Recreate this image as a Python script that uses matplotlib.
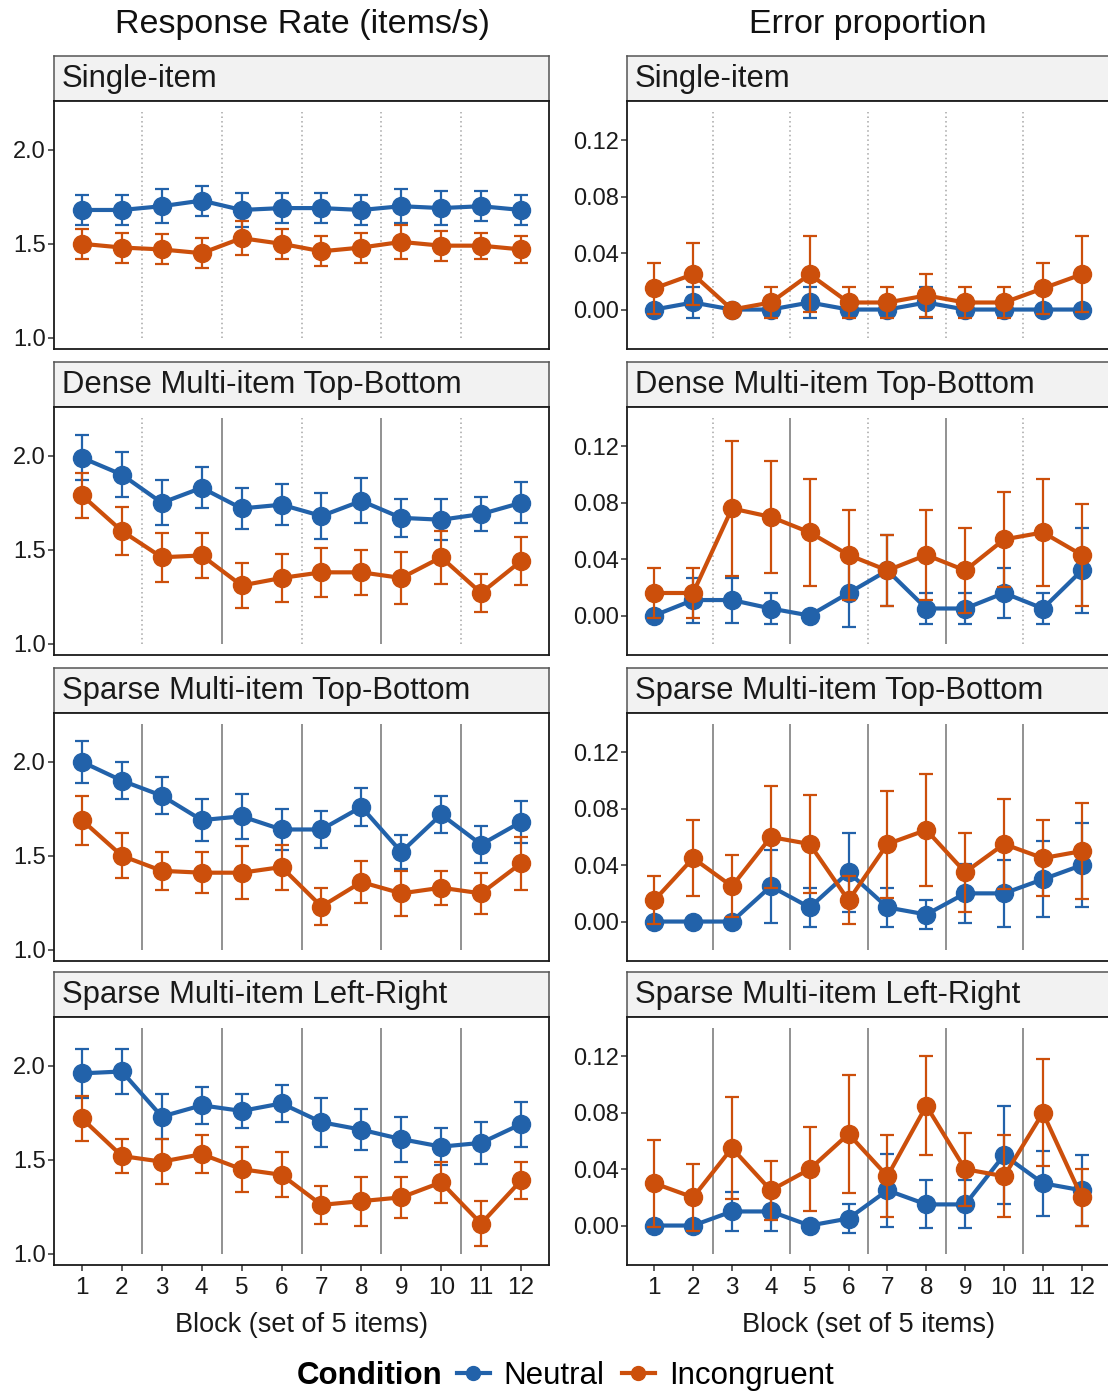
import matplotlib
matplotlib.use("Agg")
import matplotlib.pyplot as plt
from matplotlib.lines import Line2D
import numpy as np

plt.rcParams["font.family"] = ["Liberation Sans", "DejaVu Sans"]

blocks = np.arange(1, 13)
panels = ["Single-item", "Dense Multi-item Top-Bottom",
          "Sparse Multi-item Top-Bottom", "Sparse Multi-item Left-Right"]
boundaries = [2.5, 4.5, 6.5, 8.5, 10.5]
# separator style per panel: True = solid, False = dotted
sep_solid = [
    [False, False, False, False, False],
    [False, True, False, True, False],
    [True, True, True, True, True],
    [True, True, True, True, True],
]

# response rate (items/s)
rate_neutral = [
    [1.68, 1.68, 1.70, 1.73, 1.68, 1.69, 1.69, 1.68, 1.70, 1.69, 1.70, 1.68],
    [1.99, 1.90, 1.75, 1.83, 1.72, 1.74, 1.68, 1.76, 1.67, 1.66, 1.69, 1.75],
    [2.00, 1.90, 1.82, 1.69, 1.71, 1.64, 1.64, 1.76, 1.52, 1.72, 1.56, 1.68],
    [1.96, 1.97, 1.73, 1.79, 1.76, 1.80, 1.70, 1.66, 1.61, 1.57, 1.59, 1.69],
]
rate_neutral_se = [
    [0.08, 0.08, 0.09, 0.08, 0.09, 0.08, 0.08, 0.08, 0.09, 0.09, 0.08, 0.08],
    [0.12, 0.12, 0.12, 0.11, 0.11, 0.11, 0.12, 0.12, 0.10, 0.11, 0.09, 0.11],
    [0.11, 0.10, 0.10, 0.11, 0.12, 0.11, 0.10, 0.10, 0.09, 0.10, 0.10, 0.11],
    [0.13, 0.12, 0.12, 0.10, 0.09, 0.10, 0.13, 0.11, 0.12, 0.10, 0.11, 0.12],
]
rate_incong = [
    [1.50, 1.48, 1.47, 1.45, 1.53, 1.50, 1.46, 1.48, 1.51, 1.49, 1.49, 1.47],
    [1.79, 1.60, 1.46, 1.47, 1.31, 1.35, 1.38, 1.38, 1.35, 1.46, 1.27, 1.44],
    [1.69, 1.50, 1.42, 1.41, 1.41, 1.44, 1.23, 1.36, 1.30, 1.33, 1.30, 1.46],
    [1.72, 1.52, 1.49, 1.53, 1.45, 1.42, 1.26, 1.28, 1.30, 1.38, 1.16, 1.39],
]
rate_incong_se = [
    [0.08, 0.08, 0.08, 0.08, 0.09, 0.08, 0.08, 0.08, 0.09, 0.08, 0.07, 0.07],
    [0.12, 0.13, 0.13, 0.12, 0.12, 0.13, 0.13, 0.12, 0.14, 0.14, 0.10, 0.13],
    [0.13, 0.12, 0.10, 0.11, 0.14, 0.12, 0.10, 0.11, 0.12, 0.09, 0.11, 0.14],
    [0.12, 0.09, 0.12, 0.10, 0.12, 0.12, 0.10, 0.13, 0.11, 0.11, 0.12, 0.10],
]

# error proportion
err_neutral = [
    [0.000, 0.005, 0.000, 0.000, 0.005, 0.000, 0.000, 0.005, 0.000, 0.000, 0.000, 0.000],
    [0.000, 0.011, 0.011, 0.005, 0.000, 0.016, 0.032, 0.005, 0.005, 0.016, 0.005, 0.032],
    [0.000, 0.000, 0.000, 0.025, 0.010, 0.035, 0.010, 0.005, 0.020, 0.020, 0.030, 0.040],
    [0.000, 0.000, 0.010, 0.010, 0.000, 0.005, 0.025, 0.015, 0.015, 0.050, 0.030, 0.025],
]
err_neutral_se = [
    [0.000, 0.011, 0.000, 0.000, 0.011, 0.000, 0.000, 0.011, 0.000, 0.000, 0.000, 0.000],
    [0.000, 0.016, 0.016, 0.011, 0.000, 0.024, 0.025, 0.011, 0.011, 0.018, 0.011, 0.030],
    [0.000, 0.000, 0.000, 0.026, 0.014, 0.028, 0.014, 0.010, 0.021, 0.024, 0.027, 0.030],
    [0.000, 0.000, 0.014, 0.014, 0.000, 0.010, 0.026, 0.017, 0.017, 0.035, 0.023, 0.025],
]
err_incong = [
    [0.015, 0.025, 0.000, 0.005, 0.025, 0.005, 0.005, 0.010, 0.005, 0.005, 0.015, 0.025],
    [0.016, 0.016, 0.076, 0.070, 0.059, 0.043, 0.032, 0.043, 0.032, 0.054, 0.059, 0.043],
    [0.015, 0.045, 0.025, 0.060, 0.055, 0.015, 0.055, 0.065, 0.035, 0.055, 0.045, 0.050],
    [0.030, 0.020, 0.055, 0.025, 0.040, 0.065, 0.035, 0.085, 0.040, 0.035, 0.080, 0.020],
]
err_incong_se = [
    [0.018, 0.022, 0.000, 0.011, 0.027, 0.011, 0.011, 0.015, 0.011, 0.011, 0.018, 0.027],
    [0.018, 0.018, 0.048, 0.040, 0.038, 0.032, 0.025, 0.032, 0.030, 0.034, 0.038, 0.036],
    [0.017, 0.027, 0.022, 0.036, 0.035, 0.017, 0.038, 0.040, 0.028, 0.032, 0.027, 0.034],
    [0.031, 0.024, 0.036, 0.021, 0.030, 0.042, 0.029, 0.035, 0.026, 0.029, 0.038, 0.020],
]

BLUE = "#2262AA"
ORANGE = "#CC4F0B"
W, H = 1108, 1393

fig = plt.figure(figsize=(W / 100, H / 100), dpi=100)

def px_rect(x0, y0, x1, y1):
    return [x0 / W, 1 - y1 / H, (x1 - x0) / W, (y1 - y0) / H]

strip_tops = [56, 362, 668, 972]
strip_h = 45
panel_h = 248
cols = [(54, 549), (627, 1109)]
col_titles = ["Response Rate (items/s)", "Error proportion"]
col_data = [
    (rate_neutral, rate_neutral_se, rate_incong, rate_incong_se),
    (err_neutral, err_neutral_se, err_incong, err_incong_se),
]
ylims = [(0.94, 2.26), (-0.028, 0.148)]
yticks = [[1.0, 1.5, 2.0], [0.00, 0.04, 0.08, 0.12]]
yfmt = ["{:.1f}", "{:.2f}"]
seg_span = [(1.0, 2.2), (-0.02, 0.14)]
title_x = [302, 868]

for c, (x0, x1) in enumerate(cols):
    fig.text(title_x[c] / W, 1 - 25 / H, col_titles[c], ha="center",
             va="center", fontsize=24.5, color="#111111")
    neu, neu_se, inc, inc_se = col_data[c]
    for r in range(4):
        st = strip_tops[r]
        sax = fig.add_axes(px_rect(x0, st, x1, st + strip_h))
        sax.set_facecolor("#F2F2F2")
        sax.set_xticks([])
        sax.set_yticks([])
        for s in sax.spines.values():
            s.set_linewidth(1.1)
            s.set_color("#555555")
        sax.text(8 / (x1 - x0), 0.5, panels[r], transform=sax.transAxes,
                 ha="left", va="center", fontsize=22.3, color="#1A1A1A")

        ax = fig.add_axes(px_rect(x0, st + strip_h, x1, st + strip_h + panel_h))
        for b, solid in zip(boundaries, sep_solid[r]):
            if solid:
                ax.vlines(b, *seg_span[c], color="#7F7F7F", lw=1.2, zorder=1)
            else:
                ax.vlines(b, *seg_span[c], color="#A6A6A6", lw=1.1,
                          linestyles=(0, (1, 2)), zorder=1)
        ax.errorbar(blocks, neu[r], yerr=neu_se[r], color=BLUE, lw=3,
                    marker="o", ms=13, elinewidth=1.6, capsize=5, capthick=1.6,
                    zorder=3)
        ax.errorbar(blocks, inc[r], yerr=inc_se[r], color=ORANGE, lw=3,
                    marker="o", ms=13, elinewidth=1.6, capsize=5, capthick=1.6,
                    zorder=4)
        ax.set_xlim(0.3, 12.7)
        ax.set_ylim(*ylims[c])
        ax.set_yticks(yticks[c])
        ax.set_yticklabels([yfmt[c].format(v) for v in yticks[c]])
        ax.tick_params(axis="y", labelsize=17, length=4, width=1.1,
                       color="#333333", labelcolor="#1A1A1A", pad=2)
        for s in ax.spines.values():
            s.set_linewidth(1.3)
            s.set_color("#1A1A1A")
        if r == 3:
            ax.set_xticks(blocks)
            ax.tick_params(axis="x", labelsize=17.5, length=4, width=1.1,
                           color="#333333", labelcolor="#1A1A1A", pad=5)
            ax.set_xlabel("Block (set of 5 items)", fontsize=19.5,
                          color="#1A1A1A", labelpad=9)
        else:
            ax.set_xticks([])

fig.text(370 / W, 1 - 1376 / H, "Condition", ha="center", va="center",
         fontsize=22.5, fontweight="bold")
handles = [
    Line2D([], [], color=BLUE, lw=3, marker="o", ms=10),
    Line2D([], [], color=ORANGE, lw=3, marker="o", ms=10),
]
fig.legend(handles, ["Neutral", "Incongruent"], loc="center left",
           bbox_to_anchor=(457 / W, 1 - 1376 / H), ncol=2, frameon=False,
           fontsize=22.5, handlelength=1.05, handletextpad=0.45,
           columnspacing=0.55, borderpad=0, borderaxespad=0)

fig.savefig("out.png", dpi=100)
